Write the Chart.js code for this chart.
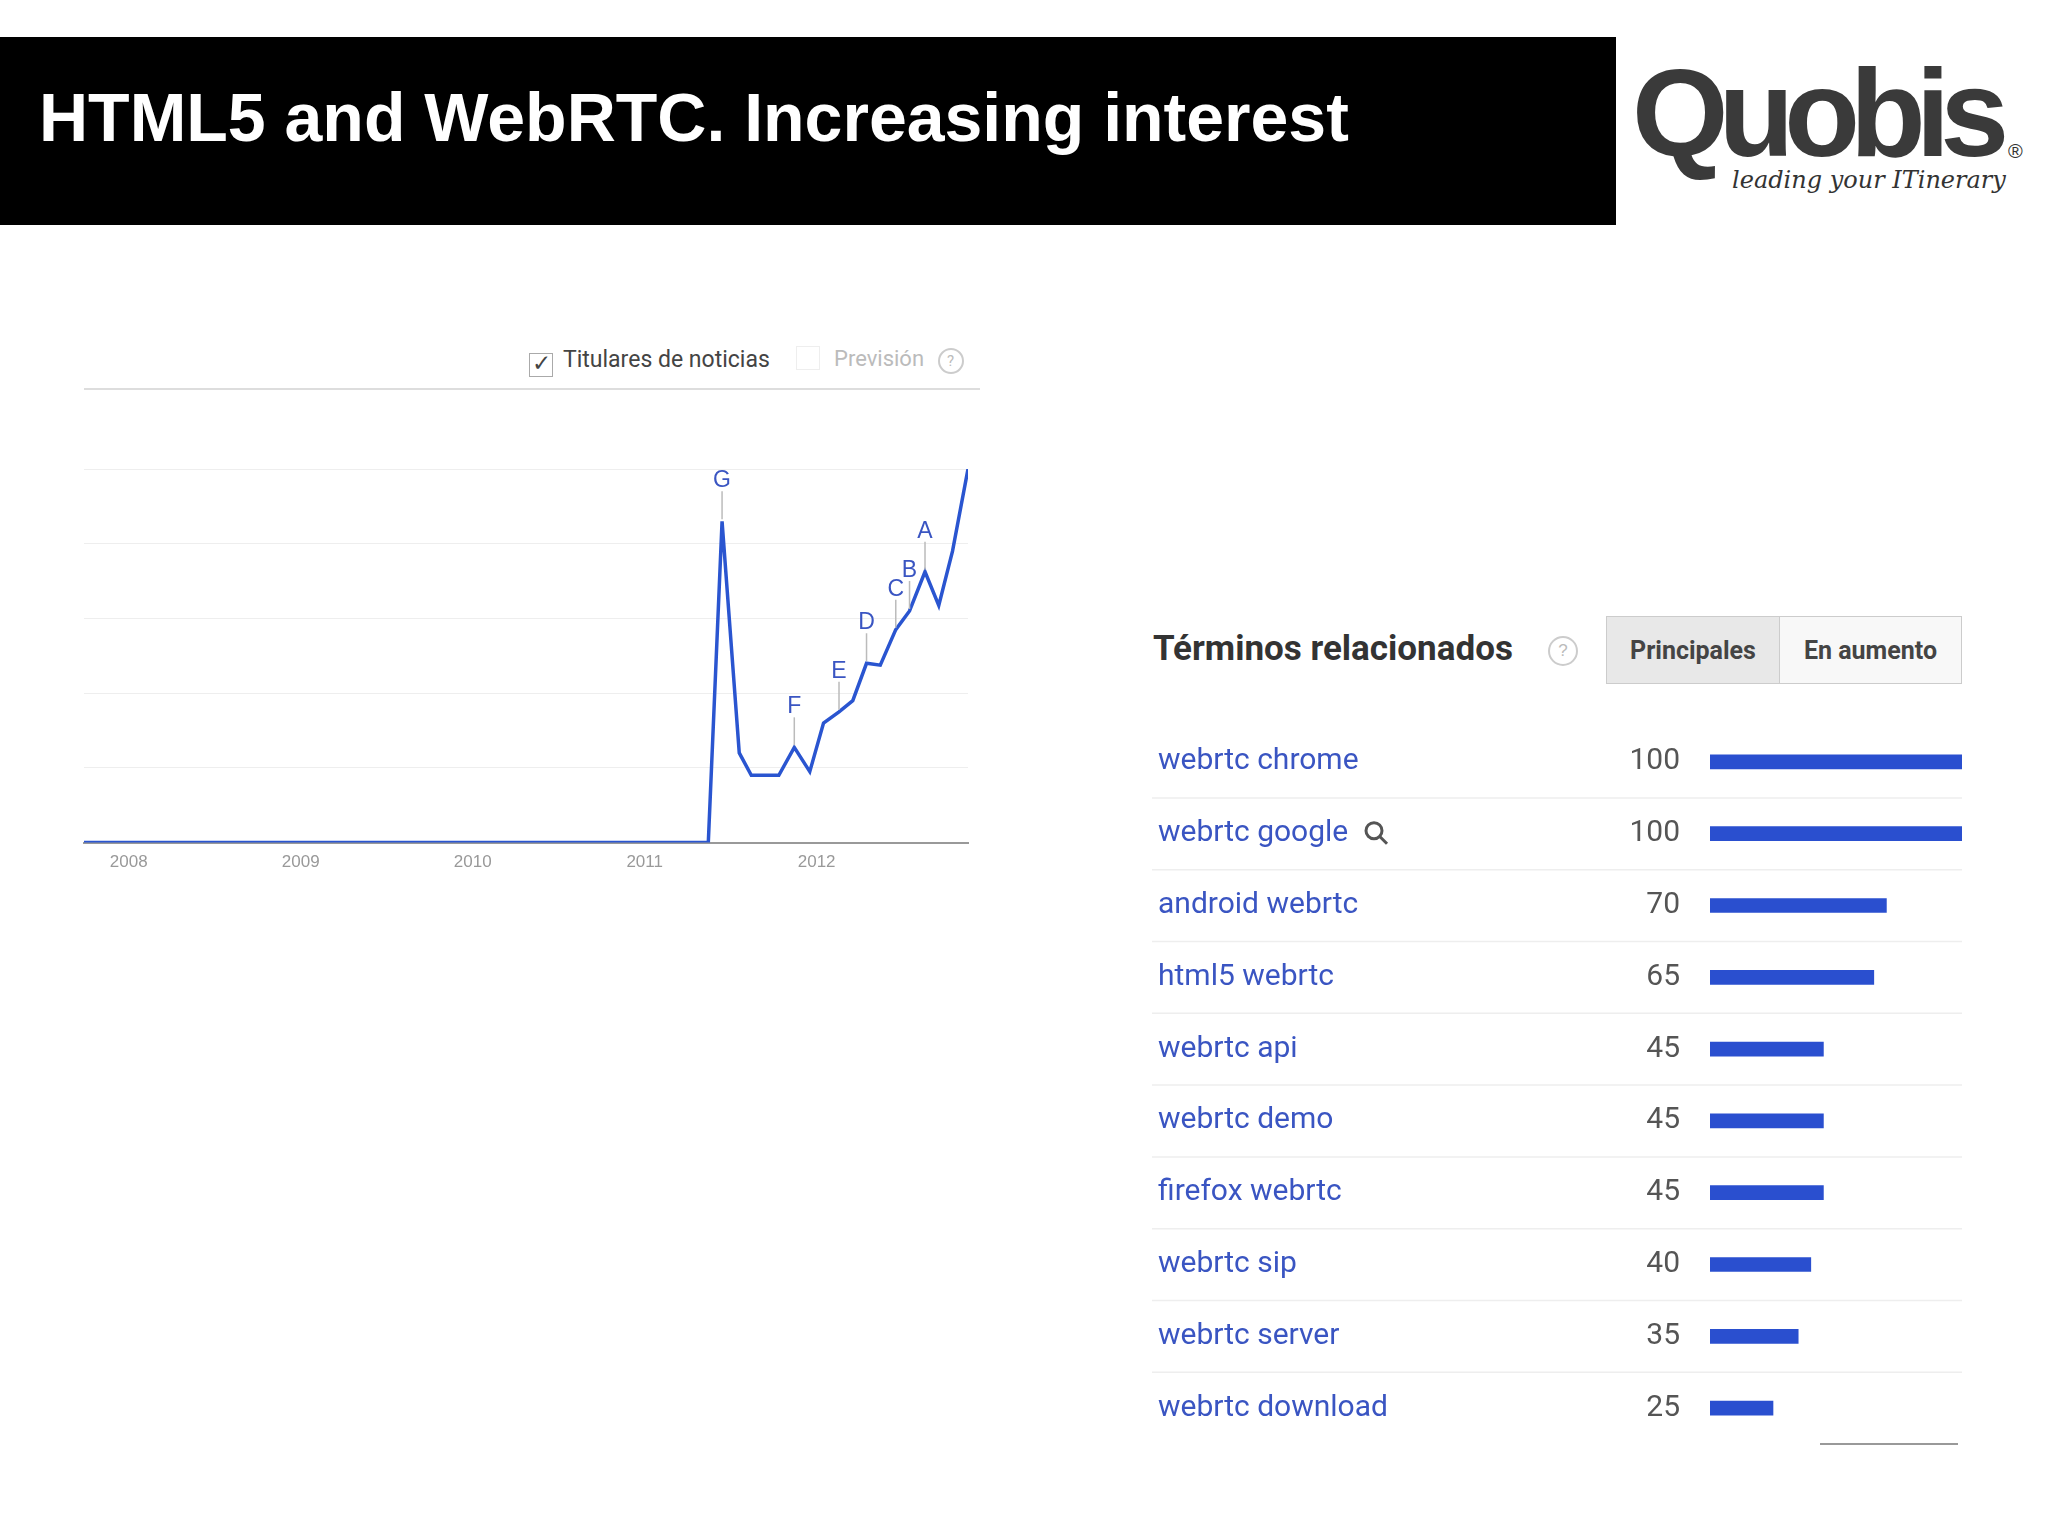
<!DOCTYPE html>
<html><head><meta charset="utf-8">
<script src="https://cdn.jsdelivr.net/npm/chart.js@4"></script>
<style>
body{margin:0;width:2048px;height:1536px;background:#fff;position:relative;overflow:hidden;font-family:"Liberation Sans",Arial,sans-serif}
.abs{position:absolute}
#hdr{left:0;top:37px;width:1616px;height:188px;background:#000}
#ttl{left:39px;top:78px;color:#fff;font-weight:bold;font-size:68px;white-space:nowrap}
#logo{left:1632px;top:42px;font-family:"Liberation Sans";font-weight:bold;font-size:124px;color:#3a3a3a;letter-spacing:-10px}
#tag{left:1732px;top:166px;font-size:24px;color:#333;font-style:italic;font-family:"DejaVu Serif"}
#reg{left:2008px;top:140px;font-size:20px;color:#333}
#leg{left:529px;top:346px;font-size:23px;color:#444;font-family:Roboto}
#prev{left:796px;top:346px;font-size:22px;color:#bbb;font-family:Roboto}
#hline{left:84px;top:388px;width:896px;height:2px;background:#ddd}
#rtitle{left:1153px;top:628px;font-size:35px;font-weight:bold;color:#333;font-family:Roboto}
.btn{top:616px;height:68px;border:1px solid #ccc;font-weight:bold;font-size:25px;color:#444;font-family:Roboto;display:flex;align-items:center;justify-content:center;box-sizing:border-box}
</style></head><body>
<div id="hdr" class="abs"></div>
<div id="ttl" class="abs">HTML5 and WebRTC. Increasing interest</div>
<div id="logo" class="abs">Quobis</div>
<div id="reg" class="abs">®</div>
<div id="tag" class="abs">leading your ITinerary</div>
<div id="leg" class="abs"><span style="display:inline-block;width:22px;height:22px;border:1px solid #aaa;vertical-align:-4px;margin-right:10px;text-align:center;line-height:20px">✓</span>Titulares de noticias</div>
<div id="prev" class="abs"><span style="display:inline-block;width:22px;height:22px;border:1px solid #eee;vertical-align:-4px;margin-right:14px"></span>Previsión <span style="display:inline-block;width:22px;height:22px;border:2px solid #ccc;border-radius:50%;font-size:15px;text-align:center;line-height:22px;margin-left:8px">?</span></div>
<div id="hline" class="abs"></div>
<div id="rtitle" class="abs">Términos relacionados</div>
<div class="abs" style="left:1548px;top:636px;width:26px;height:26px;border:2px solid #ccc;border-radius:50%;color:#bbb;font-size:17px;text-align:center;line-height:26px">?</div>
<div class="abs btn" style="left:1606px;width:174px;background:#e8e8e8">Principales</div>
<div class="abs btn" style="left:1779px;width:183px;background:#f8f8f8">En aumento</div>
<div class="abs" style="left:60px;top:330px;width:940px;height:570px"><canvas id="c1"></canvas></div>
<div class="abs" style="left:1140px;top:716px;width:840px;height:735px"><canvas id="c2"></canvas></div>
<div class="abs" style="left:1820px;top:1443px;width:138px;height:2px;background:#999"></div>
<script>
const trendT=[2007.74,2011.37,2011.45,2011.55,2011.62,2011.78,2011.87,2011.96,2012.04,2012.13,2012.21,2012.29,2012.37,2012.46,2012.54,2012.63,2012.71,2012.79,2012.88];
const trendV=[0,0,86,24,18,18,25.5,19,32,35,38,48,47.5,57,62,72.5,63.5,78,100];
const noteLetters=['G','F','E','D','C','B','A'];
const noteIdx=[2,6,9,11,13,14,15];
const yearTicks=[2008,2009,2010,2011,2012];
const terms=['webrtc chrome','webrtc google','android webrtc','html5 webrtc','webrtc api','webrtc demo','firefox webrtc','webrtc sip','webrtc server','webrtc download'];
const termVals=[100,100,70,65,45,45,45,40,35,25];

const notes={id:'notes',afterDatasetsDraw(ch){
  const c=ch.ctx,x=ch.scales.x,y=ch.scales.y;c.save();
  c.font='23px "Liberation Sans"';c.textAlign='center';
  noteIdx.forEach((i,k)=>{
    const px=x.getPixelForValue(trendT[i]),py=y.getPixelForValue(trendV[i]);
    const ly=py-30;
    c.strokeStyle='#bbb';c.lineWidth=1.5;c.beginPath();c.moveTo(px,py-2);c.lineTo(px,ly);c.stroke();
    c.fillStyle='#3a55c2';c.fillText(noteLetters[k],px,ly-4);
  });c.restore();}};
new Chart(document.getElementById('c1'),{type:'line',
 data:{datasets:[{data:trendT.map((t,i)=>({x:t,y:trendV[i]})),borderColor:'#2a55d0',borderWidth:3.5,pointRadius:0,tension:0}]},
 options:{responsive:true,maintainAspectRatio:false,animation:false,
  layout:{padding:{left:24,right:32,top:139,bottom:25}},
  plugins:{legend:{display:false},tooltip:{enabled:false}},
  scales:{x:{type:'linear',min:2007.74,max:2012.88,afterBuildTicks:a=>{a.ticks=yearTicks.map(v=>({value:v}))},
     ticks:{callback:v=>String(v),color:'#999',font:{size:17},padding:2},grid:{display:false},border:{color:'#999',width:2}},
   y:{min:0,max:100,ticks:{display:false,stepSize:20},grid:{color:'#eee',drawTicks:false},border:{display:false}}}},
 plugins:[notes]});

const tbl={id:'tbl',afterDatasetsDraw(ch){
  const c=ch.ctx,y=ch.scales.y;c.save();
  terms.forEach((t,i)=>{
    const py=y.getPixelForValue(i);
    c.font='30px Roboto';c.textBaseline='middle';c.textAlign='left';c.fillStyle='#3a55c2';c.fillText(t,18,py);
    c.textAlign='right';c.fillStyle='#555';c.fillText(String(termVals[i]),540,py);
    if(i<terms.length-1){c.strokeStyle='#eee';c.lineWidth=1.5;c.beginPath();c.moveTo(12,py+36);c.lineTo(822,py+36);c.stroke();}
  });
  const py=y.getPixelForValue(1);c.strokeStyle='#555';c.lineWidth=3;c.beginPath();c.arc(234,py-3,8,0,Math.PI*2);c.stroke();
  c.beginPath();c.moveTo(240,py+3);c.lineTo(247,py+10);c.stroke();
  c.restore();}};
new Chart(document.getElementById('c2'),{type:'bar',
 data:{labels:terms,datasets:[{data:termVals,backgroundColor:'#2a4fcf',barThickness:14}]},
 options:{indexAxis:'y',responsive:true,maintainAspectRatio:false,animation:false,
  layout:{padding:{left:570,right:18,top:10,bottom:7}},
  plugins:{legend:{display:false},tooltip:{enabled:false}},
  scales:{x:{min:0,max:100,display:false},y:{display:false}}},
 plugins:[tbl]});
</script></body></html>
